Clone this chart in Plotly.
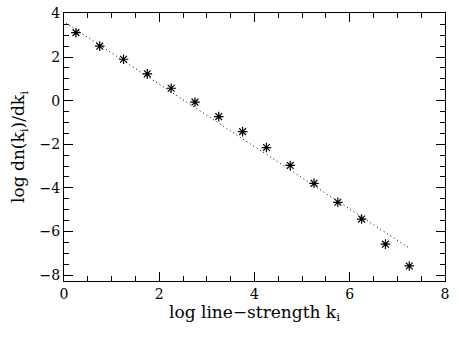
import plotly.graph_objects as go

# data
log_k = [0.25, 0.75, 1.25, 1.75, 2.25, 2.75, 3.25, 3.75, 4.25, 4.75, 5.25, 5.75, 6.25, 6.75, 7.25]
log_dn = [3.12, 2.5, 1.9, 1.23, 0.57, -0.07, -0.73, -1.42, -2.15, -2.97, -3.79, -4.66, -5.43, -6.58, -7.58]
fit_x = [0.04, 7.25]
fit_y = [3.56, -6.76]

FONT = "DejaVu Serif"

fig = go.Figure()
fig.add_trace(go.Scatter(x=fit_x, y=fit_y, mode="lines",
                         line=dict(color="black", width=1, dash="1px,3px"), showlegend=False))
fig.add_trace(go.Scatter(x=log_k, y=log_dn, mode="markers",
                         marker=dict(symbol="asterisk-open", size=8, color="black",
                                     line=dict(color="black", width=1.2)),
                         showlegend=False))

axis_common = dict(showgrid=False, zeroline=False, showline=True, linecolor="black", linewidth=1,
                   mirror="ticks", ticks="inside", ticklen=9, tickcolor="black", tickwidth=1,
                   automargin=False, ticklabeloverflow="allow",
                   tickfont=dict(family=FONT, size=14, color="black"))

fig.update_xaxes(range=[0, 8], dtick=2, tick0=0,
                 minor=dict(ticks="inside", dtick=0.5, ticklen=5, tickcolor="black"),
                 title=dict(text="log line\u2212strength k<sub>i</sub>",
                            font=dict(family=FONT, size=17, color="black"), standoff=4),
                 **axis_common)
fig.update_yaxes(range=[-8.27, 4.02], dtick=2, tick0=0,
                 minor=dict(ticks="inside", dtick=0.5, ticklen=5, tickcolor="black"),
                 title=dict(text="log dn(k<sub>i</sub>)/dk<sub>i</sub>",
                            font=dict(family=FONT, size=17, color="black"), standoff=10),
                 **axis_common)

fig.update_layout(width=459, height=342, margin=dict(l=64, r=14, t=13, b=61),
                  plot_bgcolor="white", paper_bgcolor="white",
                  font=dict(family=FONT, color="black"))
# remove the page's default 8px body margin so the figure sits at the window's corner
fig.write_html("out.html", config={"displayModeBar": False},
               post_script="document.body.style.margin='0';document.body.style.overflow='hidden';")
